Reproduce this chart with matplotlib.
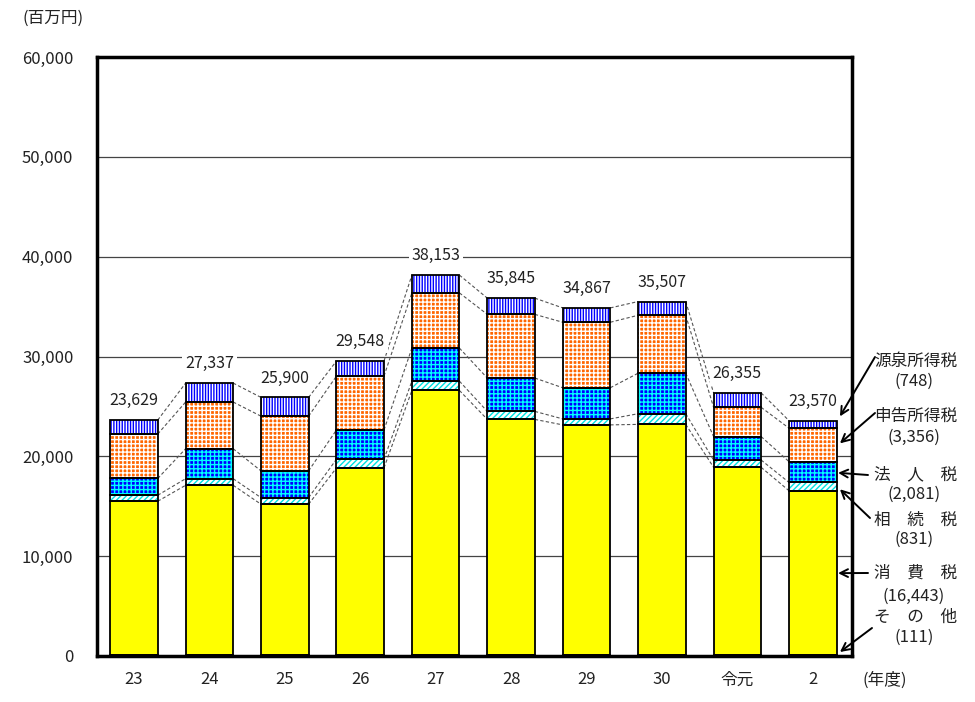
import numpy as np
import matplotlib.pyplot as plt

plt.rcParams['font.family'] = ['Noto Sans CJK JP', 'DejaVu Sans']
plt.rcParams['hatch.linewidth'] = 1.0

# data (百万円)
years = ['23', '24', '25', '26', '27', '28', '29', '30', '令元', '2']
totals = [23629, 27337, 25900, 29548, 38153, 35845, 34867, 35507, 26355, 23570]

other = [100, 100, 100, 100, 150, 100, 100, 100, 150, 111]
consumption = [15400, 17000, 15100, 18740, 26450, 23600, 23050, 23100, 18750, 16443]
inheritance = [600, 660, 660, 870, 930, 800, 600, 1070, 730, 831]
corporate = [1680, 3000, 2680, 2930, 3310, 3340, 3120, 4060, 2350, 2081]
self_assessed = [4450, 4680, 5480, 5400, 5530, 6380, 6560, 5800, 2930, 3356]
withholding = [1399, 1897, 1880, 1508, 1783, 1625, 1437, 1377, 1445, 748]

# bottom -> top : values, face colour, hatch, hatch colour
series = [
    (other, '#000080', None, None),
    (consumption, '#FFFF00', None, None),
    (inheritance, 'white', '//////', '#00E0E0'),
    (corporate, '#0000FF', '++++', '#00FFFF'),
    (self_assessed, '#FF6600', '++++', 'white'),
    (withholding, '#0000FF', '||||||', 'white'),
]

fig = plt.figure(figsize=(9.75, 7.02), dpi=100)
ax = fig.add_axes([97 / 975, 1 - 656 / 702, (852 - 97) / 975, (656 - 57) / 702])

x = np.arange(len(years))
w = 0.63
bottom = np.zeros(len(years))
levels = []
for vals, face, hatch, hcol in series:
    vals = np.array(vals, dtype=float)
    ax.bar(x, vals, w, bottom=bottom, color=face, lw=0, zorder=2)
    if hatch:
        ax.bar(x, vals, w, bottom=bottom, color='none', edgecolor=hcol,
               hatch=hatch, lw=0, zorder=2.1)
    ax.bar(x, vals, w, bottom=bottom, color='none', edgecolor='black',
           lw=1.3, zorder=2.2)
    bottom = bottom + vals
    levels.append(bottom.copy())

# dashed series lines between neighbouring bars
for lev in levels[1:]:
    for i in range(len(x) - 1):
        ax.plot([x[i] + w / 2, x[i + 1] - w / 2], [lev[i], lev[i + 1]],
                ls=(0, (3, 2)), color='#555555', lw=0.8, zorder=1.5)

# totals above bars
for xi, t in zip(x, totals):
    ax.annotate(f'{t:,}', (xi, t), xytext=(0, 14), textcoords='offset points',
                ha='center', va='center', fontsize=11.5, color='#222222',
                bbox=dict(fc='white', ec='none', pad=2), zorder=3)

ax.set_xlim(-0.49, 9.52)
ax.set_ylim(0, 60000)
ax.set_yticks(np.arange(0, 60001, 10000))
ax.set_yticklabels([f'{v:,}' for v in range(0, 60001, 10000)])
ax.set_xticks(x)
ax.set_xticklabels(years)
ax.tick_params(length=0, labelsize=12, labelcolor='#222222')
ax.tick_params(axis='y', pad=17)
ax.tick_params(axis='x', pad=11)
ax.yaxis.grid(True, color='#444444', lw=0.9)
ax.set_axisbelow(True)
for s in ax.spines.values():
    s.set_linewidth(2.5)
    s.set_color('black')

fig.text(22 / 975, 1 - 18 / 702, '(百万円)', ha='left', va='center',
         fontsize=12, color='#222222')
fig.text(885 / 975, 1 - 680 / 702, '(年度)', ha='center', va='center',
         fontsize=12, color='#222222')

# right side callouts for the last year
names = ['源泉所得税', '申告所得税', '法　人　税', '相　続　税', '消　費　税', 'そ　の　他']
last = [withholding[-1], self_assessed[-1], corporate[-1], inheritance[-1],
        consumption[-1], other[-1]]
name_y = [361, 416, 475, 520, 573, 617]
val_y = [381, 437, 494, 539, 596, 637]
arrow_from = [(875, 357), (875, 413), (868, 475), (870, 518), (868, 573), (872, 628)]
tip_y = [24000, 21300, 18350, 16700, 8300, 400]
tip_x = [9.36, 9.36, 9.335, 9.36, 9.335, 9.36]

for nm, v, ny, vy, (sx, sy), ty, tx in zip(names, last, name_y, val_y,
                                           arrow_from, tip_y, tip_x):
    fig.text(916 / 975, 1 - ny / 702, nm, ha='center', va='center',
             fontsize=12, color='#222222')
    fig.text(914 / 975, 1 - vy / 702, f'({v:,})', ha='center', va='center',
             fontsize=12, color='#222222')
    ax.annotate('', xy=(tx, ty), xycoords='data',
                xytext=(sx, 702 - sy), textcoords='figure pixels',
                arrowprops=dict(arrowstyle='->', lw=1.4, color='black',
                                shrinkA=0, shrinkB=0, mutation_scale=14),
                annotation_clip=False)

fig.savefig('out.png', dpi=100)
